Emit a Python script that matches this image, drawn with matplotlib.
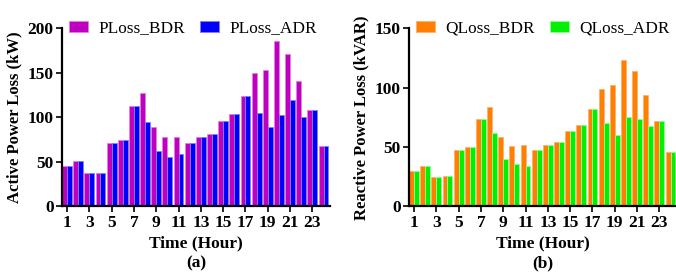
import numpy as np
import matplotlib
matplotlib.use("Agg")
import matplotlib.pyplot as plt

plt.rcParams['font.family'] = ['Liberation Serif', 'DejaVu Serif']

# -----------------------------
# Data
# -----------------------------
hours = np.arange(1, 25)

ploss_bdr = [45.9, 50.8, 37.2, 37.2, 71.8, 75.2, 112.8, 127.8, 89.1, 77.8, 77.8, 71.8,
             78.6, 82.0, 96.2, 104.1, 123.7, 149.6, 153.4, 186.0, 171.0, 140.6, 108.3, 68.0]
ploss_adr = [45.9, 50.8, 37.2, 37.2, 71.8, 75.2, 112.8, 94.4, 62.0, 55.6, 58.6, 71.8,
             78.6, 82.0, 96.2, 104.1, 123.7, 105.6, 89.5, 103.0, 119.2, 100.4, 108.3, 68.0]

qloss_bdr = [30.1, 34.0, 24.8, 25.3, 47.9, 49.9, 73.8, 83.8, 58.2, 51.0, 51.5, 47.4,
             52.1, 54.6, 64.0, 69.0, 82.2, 99.2, 102.2, 123.4, 113.9, 93.9, 72.4, 45.7]
qloss_adr = [30.1, 34.0, 24.8, 25.3, 47.9, 49.9, 73.8, 61.8, 40.1, 35.4, 34.5, 47.4,
             52.1, 54.6, 64.0, 69.0, 82.2, 70.5, 59.9, 75.5, 73.8, 68.0, 72.4, 45.7]

xticks = list(range(1, 24, 2))

# -----------------------------
# Figure layout
# -----------------------------
fig = plt.figure(figsize=(6.76, 2.74), dpi=100)
ax_p = fig.add_axes([0.0917, 0.2464, 0.396, 0.6496])
ax_q = fig.add_axes([0.605, 0.2464, 0.396, 0.6496])

W = 0.44


def draw_panel(ax, bdr, adr, c1, e1, c2, e2, lab1, lab2, ylabel, ymax, tag):
    ax.bar(hours - W / 2, bdr, width=W, color=c1, edgecolor=e1, linewidth=0.6, label=lab1)
    ax.bar(hours + W / 2, adr, width=W, color=c2, edgecolor=e2, linewidth=0.6, label=lab2)
    ax.set_xlim(0.55, 24.55)
    ax.set_ylim(0, ymax)
    ax.set_yticks(np.arange(0, ymax + 1, 50))
    ax.set_xticks(xticks)
    for s in ("top", "right"):
        ax.spines[s].set_visible(False)
    for s in ("left", "bottom"):
        ax.spines[s].set_linewidth(1.6)
    ax.tick_params(axis="both", width=1.2, length=4, labelsize=12.5, pad=2)
    for t in ax.get_xticklabels() + ax.get_yticklabels():
        t.set_fontweight("bold")
    ax.set_ylabel(ylabel, fontsize=12, fontweight="bold", labelpad=4)
    ax.set_xlabel("Time (Hour)", fontsize=12.5, fontweight="bold", labelpad=3)
    ax.text(0.5, -0.32, tag, transform=ax.transAxes, ha="center", va="center",
            fontsize=12.5, fontweight="bold")
    ax.legend(loc="center left", bbox_to_anchor=(0.0, 1.0), ncol=2, frameon=False,
              fontsize=12.4, handlelength=1.1, handleheight=0.65, handletextpad=0.6,
              columnspacing=0.9, borderaxespad=0)


draw_panel(ax_p, ploss_bdr, ploss_adr, "#C000C0", "#E080E0", "#0000FF", "#8080FF",
           "PLoss_BDR", "PLoss_ADR", "Active Power Loss (kW)", 200, "(a)")
draw_panel(ax_q, qloss_bdr, qloss_adr, "#FF8000", "#FFB070", "#00F000", "#90FF90",
           "QLoss_BDR", "QLoss_ADR", "Reactive Power Loss (kVAR)", 150, "(b)")

fig.savefig("out.png", dpi=100)
